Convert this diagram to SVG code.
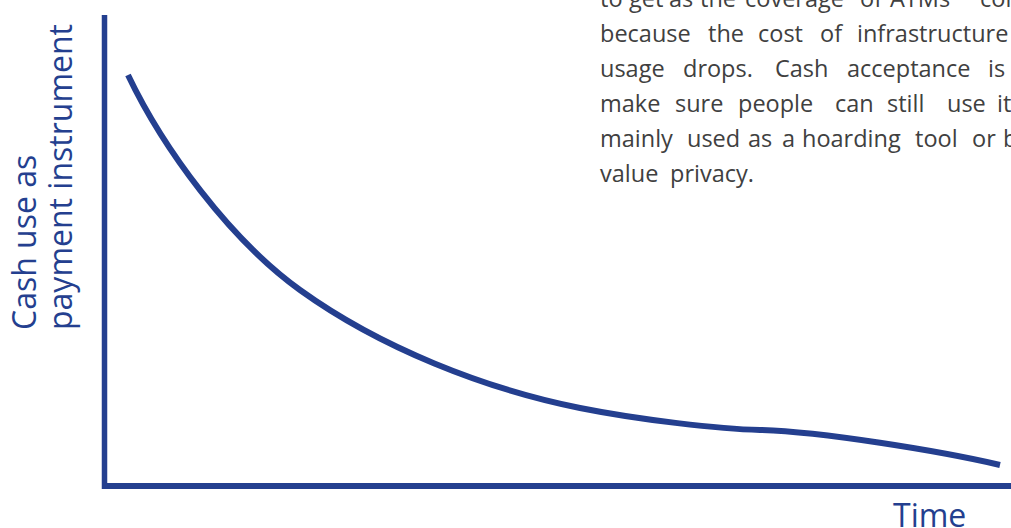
<svg xmlns="http://www.w3.org/2000/svg" width="1011" height="528" viewBox="0 0 1011 528">
<style>
.axis{stroke:#243f8f;fill:none}
.curve{stroke:#243f8f;stroke-width:6;fill:none;stroke-linecap:butt}
.lab{font-family:"Open Sans","Liberation Sans",sans-serif;fill:#243f8f;font-size:32px}
.body{font-family:"Open Sans","Liberation Sans",sans-serif;fill:#404040;font-size:23.5px}
</style>
<rect width="1011" height="528" fill="#ffffff"/>
<g id="text-block">
<text class="body" y="7"><tspan x="600">to</tspan><tspan x="629">get</tspan><tspan x="669">as</tspan><tspan x="700">the</tspan><tspan x="745">coverage</tspan><tspan x="860">of</tspan><tspan x="890">ATMs</tspan><tspan x="980">con</tspan></text>
<text class="body" y="42"><tspan x="600">because</tspan><tspan x="708">the</tspan><tspan x="758">cost</tspan><tspan x="820">of</tspan><tspan x="857">infrastructure</tspan></text>
<text class="body" y="77"><tspan x="600">usage</tspan><tspan x="683">drops.</tspan><tspan x="775">Cash</tspan><tspan x="847">acceptance</tspan><tspan x="988">is</tspan></text>
<text class="body" y="112"><tspan x="600">make</tspan><tspan x="675">sure</tspan><tspan x="738">people</tspan><tspan x="835">can</tspan><tspan x="887">still</tspan><tspan x="947">use</tspan><tspan x="997">it</tspan></text>
<text class="body" y="147"><tspan x="600">mainly</tspan><tspan x="687">used</tspan><tspan x="748">as</tspan><tspan x="782">a</tspan><tspan x="802">hoarding</tspan><tspan x="915">tool</tspan><tspan x="972">or</tspan><tspan x="1003">b</tspan></text>
<text class="body" y="182"><tspan x="600">value</tspan><tspan x="670">privacy.</tspan></text>
</g>
<g id="axes">
<line class="axis" x1="104.5" y1="15" x2="104.5" y2="489" stroke-width="5.5"/>
<line class="axis" x1="102" y1="486" x2="1011" y2="486" stroke-width="6"/>
</g>
<g id="curve">
<path class="curve" d="M128,75 C163,148.5 230,239.6 300,290 C380,347.6 485,389 580,408 C640,420 720,429 760,430 C820,431.5 940,451 1000,465"/>
</g>
<g id="labels">
<text class="lab" transform="translate(36,330) rotate(-90)">Cash use as</text>
<text class="lab" transform="translate(72,330) rotate(-90)">payment instrument</text>
<text class="lab" x="893" y="527">Time</text>
</g>
</svg>
